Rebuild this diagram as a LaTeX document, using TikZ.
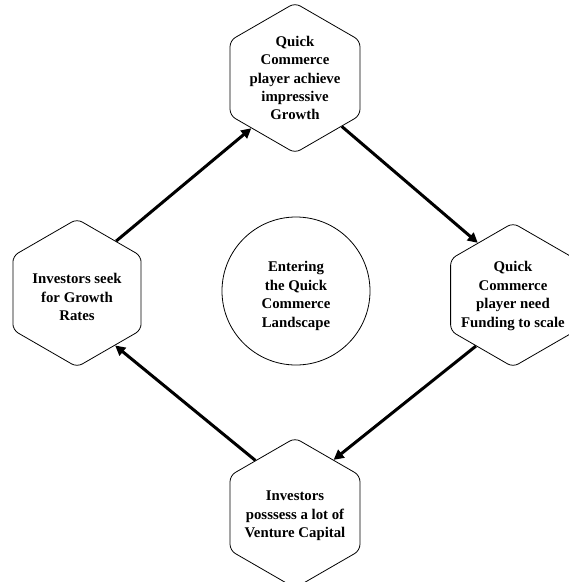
\documentclass[tikz,border=0pt]{standalone}
\usepackage{fontspec}
\setmainfont{Liberation Serif}
\usetikzlibrary{shapes.geometric,arrows.meta}
\begin{document}
\begin{tikzpicture}[x=1pt,y=-1pt,
  cycletext/.style={align=center, inner sep=0pt,
    font=\fontsize{14.8}{18.4}\selectfont\bfseries},
  hexcell/.style={regular polygon, regular polygon sides=6,
    shape border rotate=30, draw, line width=0.8pt,
    rounded corners=6pt, minimum size=#1, inner sep=0pt},
  hub/.style={circle, draw, line width=0.8pt, minimum size=148pt,
    inner sep=0pt},
  flow/.style={line width=3pt, -{Triangle[length=10pt,width=10pt]}}]
\useasboundingbox (0,0) rectangle (569,582);

% the four stages of the cycle
\node[hexcell=150pt, label={[cycletext]center:Quick\\Commerce\\player achieve\\impressive\\Growth}]
  (growth) at (295,78) {};
\node[hexcell=144pt, label={[cycletext,yshift=-1pt]center:Quick\\Commerce\\player need\\Funding to scale}]
  (funding) at (513,295) {};
\node[hexcell=150pt, label={[cycletext,yshift=-3pt]center:Investors\\posssess a lot of\\Venture Capital}]
  (capital) at (295,513) {};
\node[hexcell=148pt, label={[cycletext,yshift=-4pt]center:Investors seek\\for Growth\\Rates}]
  (seek) at (77,293) {};

% centre of the cycle
\node[hub, label={[cycletext,yshift=-5pt]center:Entering\\the Quick\\Commerce\\Landscape}]
  (hub) at (296,291) {};

% arrows between the stages
\draw[flow] (seek.53) -- (growth.229);
\draw[flow] (growth.314) -- (funding.124);
\draw[flow] (funding.234) -- (capital.54);
\draw[flow] (capital.127) -- (seek.306);
\end{tikzpicture}
\end{document}
